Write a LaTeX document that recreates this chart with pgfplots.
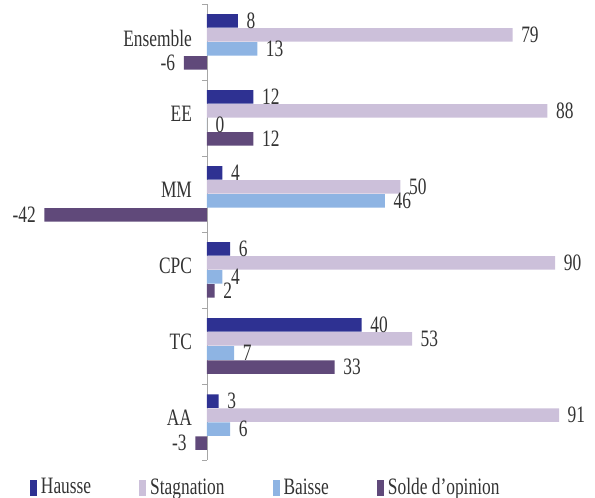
\documentclass[border=0pt]{standalone}
\usepackage{fontspec}
\setmainfont{Liberation Serif}[FakeStretch=0.74]
\usepackage{pgfplots}
\pgfplotsset{compat=1.18}
\definecolor{hausse}{RGB}{46,49,146}
\definecolor{stag}{RGB}{204,192,218}
\definecolor{baisse}{RGB}{142,180,227}
\definecolor{solde}{RGB}{96,73,122}
\newcommand{\chartfont}{\fontsize{23.5bp}{25bp}\selectfont}
\begin{document}
\chartfont
\begin{tikzpicture}
\useasboundingbox (0,-38bp) rectangle (595bp,460bp);
\begin{axis}[
  at={(0,0)}, anchor=south west,
  width=595bp, height=456bp, scale only axis,
  xmin=-53.5, xmax=100.3, ymin=0.5, ymax=6.5,
  xbar, bar width=13.5bp,
  axis x line=none, axis y line=center,
  axis line style={gray!70,-},
  xtick=\empty,
  ytick={1,...,6}, yticklabels={AA,TC,CPC,MM,EE,Ensemble},
  major tick length=0pt,
  extra y ticks={0.5,1.5,...,6.5}, extra y tick labels={},
  extra y tick style={major tick length=5bp, tick align=outside, tick style={gray!70, line width=0.8pt}},
  yticklabel style={text=black!80, font=\chartfont, xshift=-7bp, yshift=4bp},
  nodes near coords, nodes near coords align=horizontal,
  every node near coord/.append style={text=black!80, fill=none, draw=none, font=\chartfont, inner xsep=8.5bp},
  /pgf/number format/assume math mode=true,
  legend columns=-1,
  legend style={at={(axis description cs:0.045,-0.0614)}, anchor=west, draw=none, fill=none,
    font=\chartfont, text=black!80,
    /tikz/every odd column/.append style={column sep=2bp},
    /tikz/every even column/.append style={column sep=46bp}},
]
\addplot[fill=hausse, draw=none, bar shift=21bp,
  legend image code/.code={\fill[hausse] (0bp,-7.5bp) rectangle (7bp,7.5bp);}]
  coordinates {(8,6) (12,5) (4,4) (6,3) (40,2) (3,1)};
\addplot[fill=stag, draw=none, bar shift=7bp,
  legend image code/.code={\fill[stag] (0bp,-7.5bp) rectangle (7bp,7.5bp);}]
  coordinates {(79,6) (88,5) (50,4) (90,3) (53,2) (91,1)};
\addplot[fill=baisse, draw=none, bar shift=-7bp,
  legend image code/.code={\fill[baisse] (0bp,-7.5bp) rectangle (7bp,7.5bp);}]
  coordinates {(13,6) (0,5) (46,4) (4,3) (7,2) (6,1)};
\addplot[fill=solde, draw=none, bar shift=-21bp,
  legend image code/.code={\fill[solde] (0bp,-7.5bp) rectangle (7bp,7.5bp);}]
  coordinates {(-6,6) (12,5) (-42,4) (2,3) (33,2) (-3,1)};
\legend{Hausse, Stagnation, Baisse, Solde d'opinion}
\end{axis}
\end{tikzpicture}
\end{document}
